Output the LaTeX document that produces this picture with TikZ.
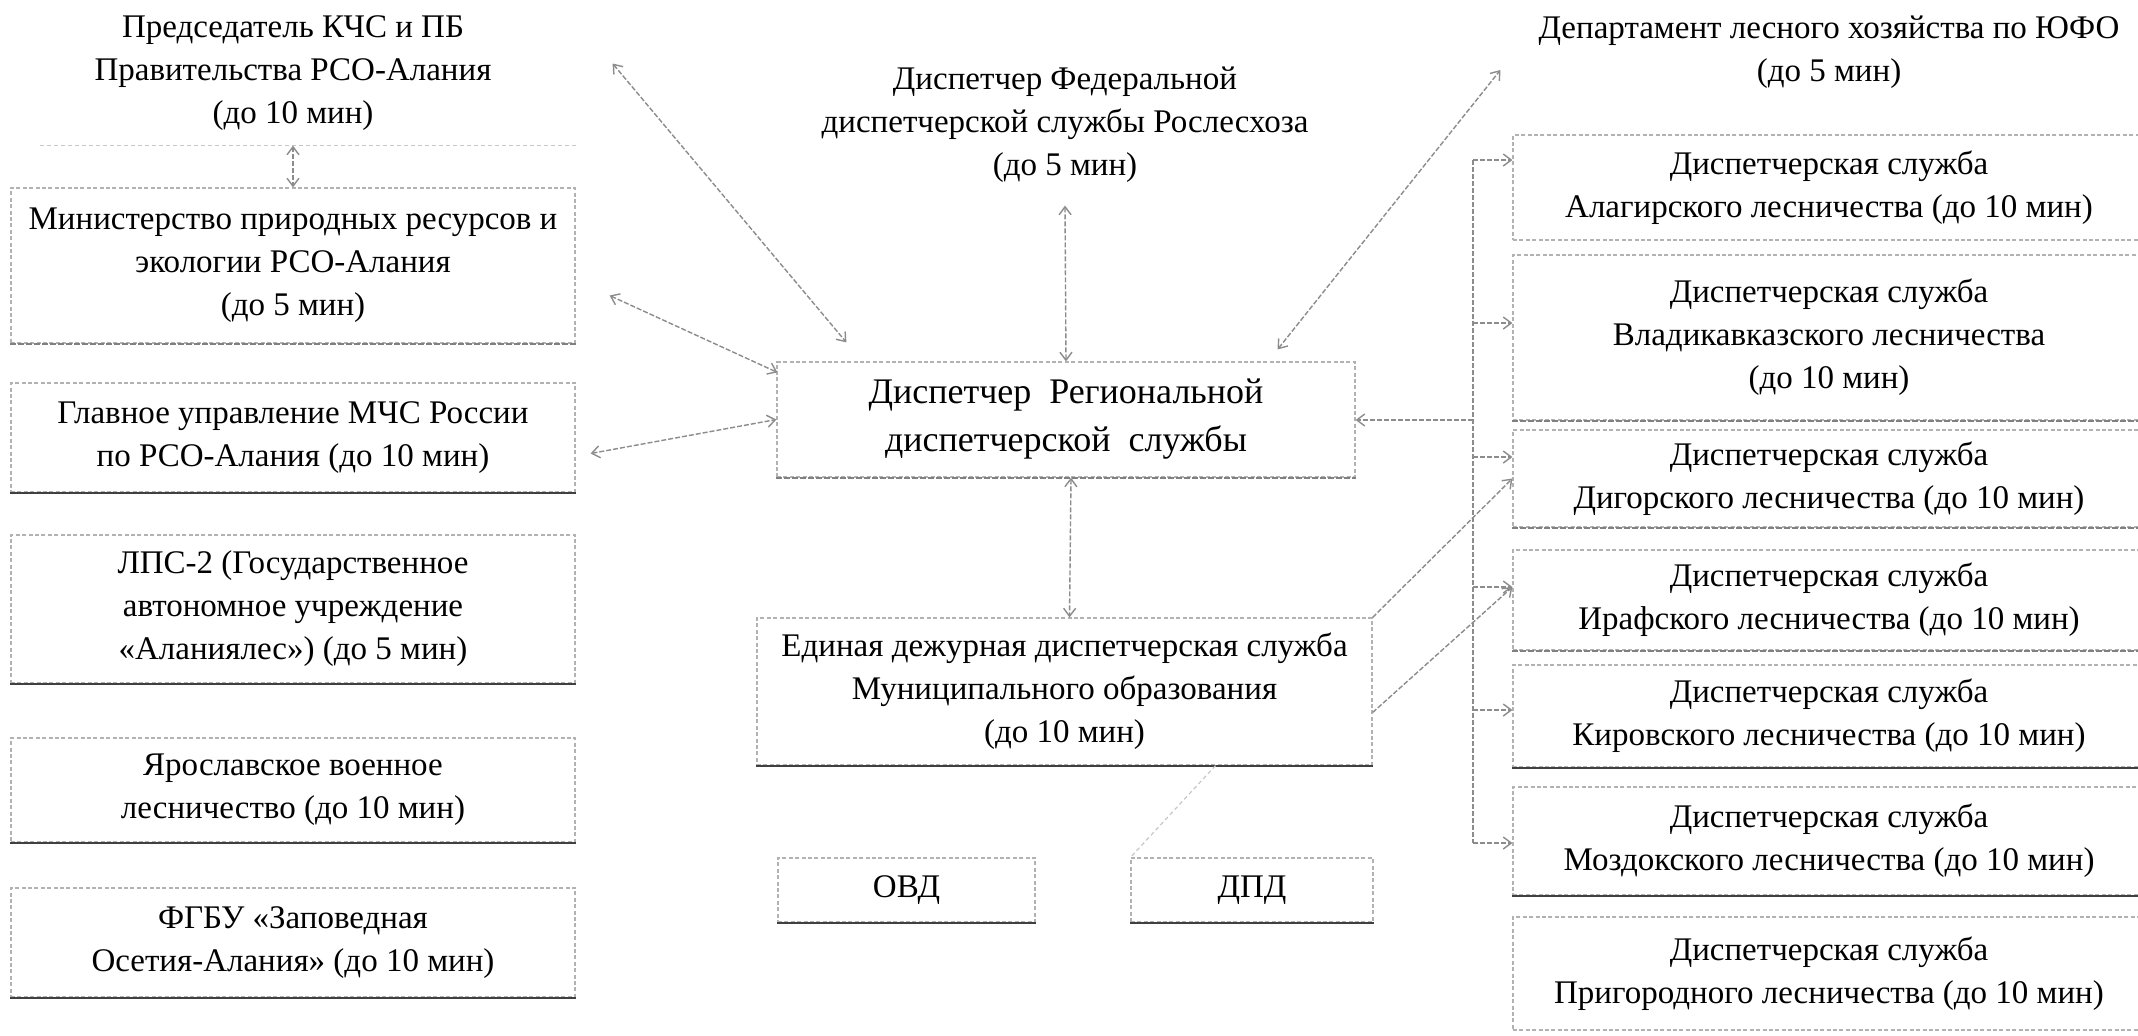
\documentclass[tikz,border=0pt]{standalone}
\usepackage{fontspec}
\setmainfont{Liberation Serif}
\usetikzlibrary{arrows.meta}
\tikzset{
 box/.style={draw=black!30, line width=0.6pt, dash pattern=on 2pt off 1.2pt, align=center, inner sep=0pt, font=\fontsize{16.5}{21.5}\selectfont, text=black},
 nobox/.style={box, draw=none},
 bigtxt/.style={font=\fontsize{18}{24}\selectfont},
 con/.style={draw=black!45, line width=0.7pt, dash pattern=on 2.5pt off 1pt},
 faint/.style={draw=black!22, line width=0.6pt, dash pattern=on 2pt off 1.5pt},
 tipend/.style={-{Straight Barb[length=4pt,width=6pt]}},
 dblarrow/.style={{Straight Barb[length=4pt,width=6pt]}-{Straight Barb[length=4pt,width=6pt]}},
 base/.style={draw=black!75, line width=1.1pt},
 midline/.style={draw=black!50, line width=0.9pt, dash pattern=on 3pt off 1pt},
}
\begin{document}
\begin{tikzpicture}[x=0.5pt,y=-0.5pt]
\useasboundingbox[fill=white] (0,0) rectangle (2138,1035);
% left column
\node[nobox, minimum width=282pt, minimum height=71.5pt] (pred) at (293,73.5) {Председатель КЧС и ПБ\\Правительства РСО-Алания\\(до 10 мин)};
\node[box, minimum width=282pt, minimum height=77.5pt] (mini) at (293,265.5) {Министерство природных ресурсов и\\экологии РСО-Алания\\(до 5 мин)};
\node[box, minimum width=282pt, minimum height=54.5pt] (glav) at (293,437.5) {Главное управление МЧС России\\по РСО-Алания (до 10 мин)};
\node[box, minimum width=282pt, minimum height=74pt] (lps) at (293,609) {ЛПС-2 (Государственное\\автономное учреждение\\«Аланиялес») (до 5 мин)};
\node[box, minimum width=282pt, minimum height=52pt] (yar) at (293,790) {Ярославское военное\\лесничество (до 10 мин)};
\node[box, minimum width=282pt, minimum height=54.5pt] (fgbu) at (293,942.5) {ФГБУ «Заповедная\\Осетия-Алания» (до 10 мин)};
% centre
\node[nobox, minimum width=275pt, minimum height=80pt] (fed) at (1065,125) {Диспетчер Федеральной\\диспетчерской службы Рослесхоза\\(до 5 мин)};
\node[box, bigtxt, minimum width=289pt, minimum height=57.5pt] (reg) at (1066,419.5) {Диспетчер\enspace Региональной\\диспетчерской\enspace службы};
\node[box, minimum width=307.5pt, minimum height=73.5pt] (edds) at (1064.5,691.5) {Единая дежурная диспетчерская служба\\Муниципального образования\\(до 10 мин)};
\node[box, minimum width=128.5pt, minimum height=32pt] (ovd) at (906.5,890) {ОВД};
\node[box, minimum width=121pt, minimum height=32pt] (dpd) at (1252,890) {ДПД};
% right column
\node[nobox, minimum width=316pt, minimum height=50pt] (dep) at (1829,52) {Департамент лесного хозяйства по ЮФО\\(до 5 мин)};
\node[box, minimum width=316pt, minimum height=52.5pt] (alag) at (1829,187.5) {Диспетчерская служба\\Алагирского лесничества (до 10 мин)};
\node[box, minimum width=316pt, minimum height=82.5pt] (vlad) at (1829,337.5) {Диспетчерская служба\\Владикавказского лесничества\\(до 10 мин)};
\node[box, minimum width=316pt, minimum height=48.5pt] (dig) at (1829,478.5) {Диспетчерская служба\\Дигорского лесничества (до 10 мин)};
\node[box, minimum width=316pt, minimum height=50pt] (iraf) at (1829,600) {Диспетчерская служба\\Ирафского лесничества (до 10 мин)};
\node[box, minimum width=316pt, minimum height=51pt] (kir) at (1829,716) {Диспетчерская служба\\Кировского лесничества (до 10 мин)};
\node[box, minimum width=316pt, minimum height=54pt] (moz) at (1829,841) {Диспетчерская служба\\Моздокского лесничества (до 10 мин)};
\node[box, minimum width=316pt, minimum height=56.5pt] (prig) at (1829,973.5) {Диспетчерская служба\\Пригородного лесничества (до 10 мин)};
% darker scanned bottom edges
\foreach \n in {glav,lps,yar,fgbu,edds,ovd,dpd,kir,moz}{
  \draw[base] (\n.south west) -- (\n.south east);
}
\foreach \n in {mini,dig,iraf,reg,vlad}{
  \draw[midline] (\n.south west) -- (\n.south east);
}
\draw[faint] ([xshift=15pt]pred.south west) -- (pred.south east);
% connectors
\draw[con,dblarrow] (pred.south) -- (mini.north);
\draw[con,dblarrow] ([shift={(37,-10)}]pred.east) -- ([shift={(70,-19)}]reg.north west);
\draw[con,dblarrow] ([shift={(34,30)}]mini.east) -- ([shift={(1,11)}]reg.north west);
\draw[con,dblarrow] ([shift={(15,16)}]glav.east) -- (reg.west);
\draw[con,dblarrow] (fed.south) -- (reg.north);
\draw[con,dblarrow] ([shift={(-78,-12)}]reg.north east) -- ([shift={(-12,18)}]dep.west);
\draw[con,dblarrow] ([xshift=2.5pt]reg.south) -- ([xshift=2.5pt]edds.north);
% bus to forestries
\coordinate (b1) at (1473,160);
\coordinate (b2) at (1473,323);
\coordinate (b3) at (1473,457);
\coordinate (b4) at (1473,587);
\coordinate (b5) at (1473,710);
\coordinate (b6) at (1473,843);
\coordinate (bR) at (1473,420);
\draw[con] (b1) -- (b6);
\draw[con,tipend] (bR) -- (bR -| reg.east);
\draw[con,tipend] (b1) -- (b1 -| alag.west);
\draw[con,tipend] (b2) -- (b2 -| vlad.west);
\draw[con,tipend] (b3) -- (b3 -| dig.west);
\draw[con,tipend] (b4) -- (b4 -| iraf.west);
\draw[con,tipend] (b5) -- (b5 -| kir.west);
\draw[con,tipend] (b6) -- (b6 -| moz.west);
% EDDS to forestries
\draw[con,tipend] (edds.north east) -- (dig.west);
\draw[con,tipend] ([shift={(0,21)}]edds.east) -- (b4 -| iraf.west);
\draw[faint] ([shift={(151,0)}]edds.south) -- (dpd.north west);
\end{tikzpicture}
\end{document}
